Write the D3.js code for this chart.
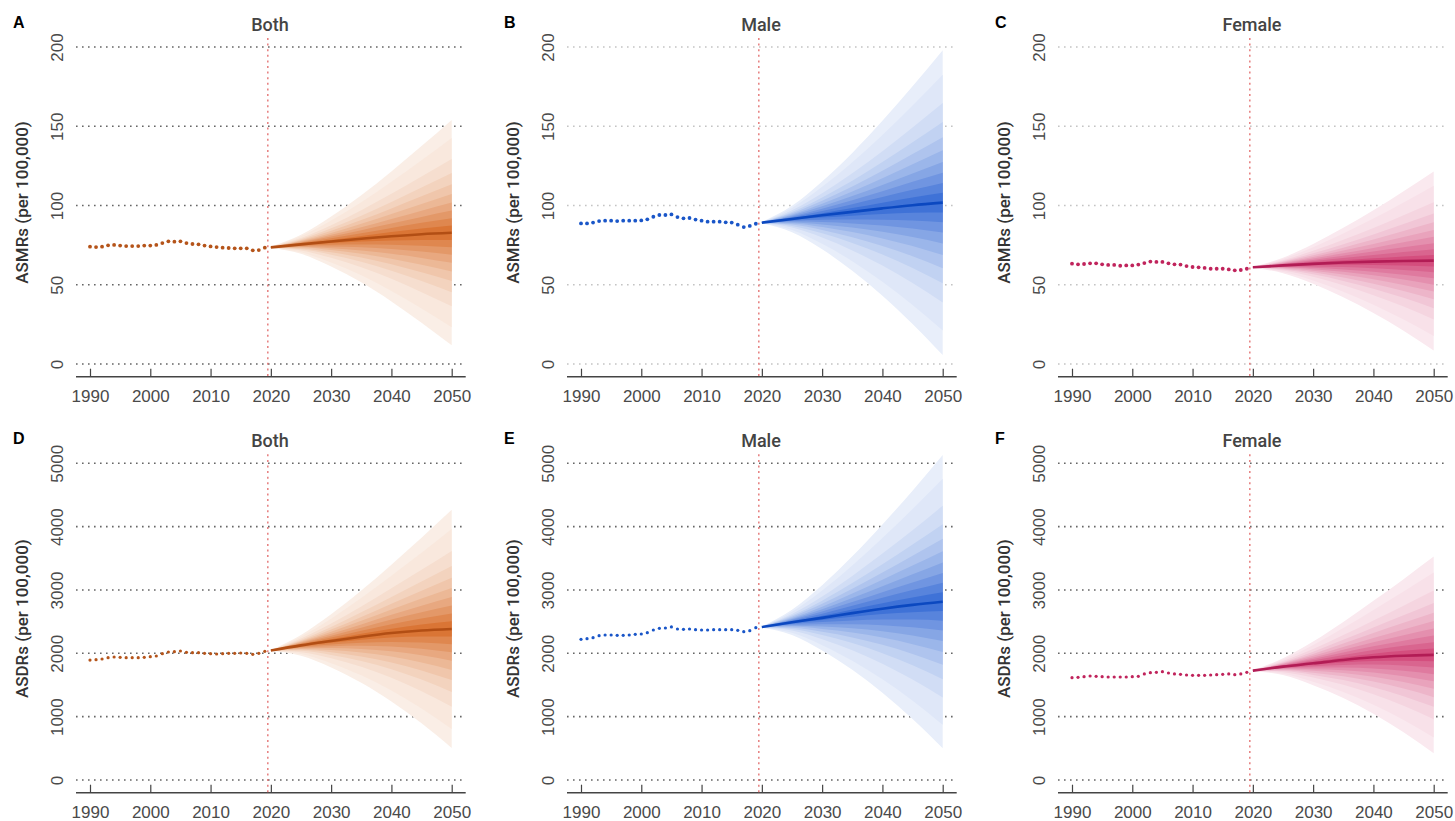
<!DOCTYPE html>
<html>
<head>
<meta charset="utf-8">
<script src="https://cdn.jsdelivr.net/npm/d3@7"></script>
<style>
  body { margin: 0; background: #fff; }
  svg { font-family: Roboto, "Noto Sans", sans-serif; }
</style>
</head>
<body>
<div id="chart"></div>
<script>
// Observed years and forecast years
const OBS_YEARS = [1990, 1991, 1992, 1993, 1994, 1995, 1996, 1997, 1998, 1999,
  2000, 2001, 2002, 2003, 2004, 2005, 2006, 2007, 2008, 2009,
  2010, 2011, 2012, 2013, 2014, 2015, 2016, 2017, 2018, 2019];
const FORECAST_YEARS = [2020, 2025, 2030, 2035, 2040, 2045, 2050];
const CUTOFF_YEAR = 2019.5;

const X_TICKS = [1990, 2000, 2010, 2020, 2030, 2040, 2050];
const ASMR_TICKS = [0, 50, 100, 150, 200];
const ASDR_TICKS = [0, 1000, 2000, 3000, 4000, 5000];

// prediction interval levels (outer -> inner) and their z scores
const BAND_LEVELS = [95, 90, 80, 70, 60, 50, 40, 30, 20, 10];
const BAND_Z = [1.960, 1.645, 1.282, 1.036, 0.842, 0.674, 0.524, 0.385, 0.253, 0.126];

// ASMR
const BOTH_ASMR_OBS = [74.0, 73.8, 74.0, 74.9, 75.1, 74.7, 74.4, 74.4, 74.4, 74.7, 74.7, 75.1, 76.3, 77.4, 77.2,
  77.4, 76.3, 75.7, 75.5, 74.7, 74.2, 73.8, 73.4, 73.2, 73.0, 73.0, 73.0, 71.7, 71.9, 73.4];
const BOTH_ASMR_MEDIAN = [73.6, 75.5, 77.3, 79.0, 80.6, 81.9, 82.8];
const BOTH_ASMR_UPPER = [74.0, 81.5, 93.0, 106.5, 121.5, 137.5, 154.0];
const BOTH_ASMR_LOWER = [73.2, 69.5, 61.5, 51.5, 39.5, 26.0, 11.8];

const MALE_ASMR_OBS = [88.7, 88.7, 89.2, 90.2, 90.4, 90.4, 90.2, 90.4, 90.4, 90.4, 90.6, 91.3, 92.9, 94.0, 94.0,
  94.4, 92.7, 91.9, 92.1, 91.1, 90.4, 89.8, 89.8, 89.8, 89.4, 89.2, 87.9, 86.4, 87.1, 88.5];
const MALE_ASMR_MEDIAN = [89.2, 91.5, 93.8, 96.0, 98.2, 100.2, 101.8];
const MALE_ASMR_UPPER = [89.6, 99.8, 115.2, 133.2, 153.4, 175.2, 198.0];
const MALE_ASMR_LOWER = [88.8, 83.2, 72.4, 58.8, 43.0, 25.2, 5.6];

const FEMALE_ASMR_OBS = [63.3, 62.9, 63.1, 63.5, 63.5, 62.9, 62.5, 62.5, 62.0, 62.2, 62.2, 62.7, 63.7, 64.6, 64.4,
  64.4, 63.5, 62.9, 62.7, 61.8, 61.2, 61.0, 60.6, 60.1, 60.1, 60.1, 59.7, 59.1, 59.3, 60.1];
const FEMALE_ASMR_MEDIAN = [61.0, 62.2, 63.2, 64.0, 64.6, 65.0, 65.2];
const FEMALE_ASMR_UPPER = [61.2, 67.1, 75.7, 85.9, 97.0, 109.0, 121.5];
const FEMALE_ASMR_LOWER = [60.8, 57.3, 50.7, 42.1, 32.2, 21.0, 8.5];

// ASDR
const BOTH_ASDR_OBS = [1894, 1900, 1910, 1931, 1942, 1937, 1931, 1931, 1931, 1937, 1947, 1958, 1994, 2021, 2026,
  2037, 2016, 2010, 2010, 2000, 1994, 1989, 1994, 2000, 2000, 2005, 2000, 1984, 2000, 2031];
const BOTH_ASDR_MEDIAN = [2045, 2125, 2195, 2262, 2320, 2360, 2385];
const BOTH_ASDR_UPPER = [2050, 2290, 2615, 2990, 3400, 3825, 4265];
const BOTH_ASDR_LOWER = [2040, 1962, 1778, 1535, 1240, 895, 505];

const MALE_ASDR_OBS = [2221, 2231, 2247, 2279, 2289, 2289, 2284, 2284, 2289, 2300, 2305, 2326, 2368, 2394, 2400,
  2416, 2384, 2379, 2384, 2374, 2368, 2368, 2374, 2374, 2374, 2374, 2363, 2342, 2358, 2405];
const MALE_ASDR_MEDIAN = [2415, 2490, 2560, 2635, 2705, 2765, 2815];
const MALE_ASDR_UPPER = [2425, 2689, 3074, 3531, 4034, 4568, 5130];
const MALE_ASDR_LOWER = [2405, 2291, 2046, 1739, 1376, 962, 500];

const FEMALE_ASDR_OBS = [1616, 1621, 1632, 1642, 1637, 1632, 1626, 1626, 1626, 1626, 1632, 1637, 1674, 1695, 1700,
  1710, 1689, 1674, 1668, 1658, 1653, 1653, 1653, 1658, 1663, 1668, 1674, 1663, 1674, 1700];
const FEMALE_ASDR_MEDIAN = [1726, 1790, 1842, 1895, 1937, 1962, 1975];
const FEMALE_ASDR_UPPER = [1730, 1923, 2187, 2496, 2828, 3171, 3527];
const FEMALE_ASDR_LOWER = [1722, 1657, 1497, 1294, 1046, 753, 423];

// Colours per sex
const COLOURS = {
  Both:   { fan: '#d6661f', line: '#b24e14', dot: '#b5541a' },
  Male:   { fan: '#2a62d2', line: '#0b48c0', dot: '#1a56c8' },
  Female: { fan: '#cf3a70', line: '#b21c55', dot: '#c0245c' }
};

const W = 1455, H = 821;
const COL_X0 = [90, 581, 1072];
const PLOT_W = 361.7;
const ROWS = [
  { top: 47, bottom: 364, axis: 376.7, label: 'ASMRs (per 100,000)', max: 200, ticks: ASMR_TICKS, r: 1.9 },
  { top: 463.3, bottom: 780, axis: 792.7, label: 'ASDRs (per 100,000)', max: 5000, ticks: ASDR_TICKS, r: 1.6 }
];

const PANELS = [
  { letter: 'A', title: 'Both',   row: 0, col: 0, grid: '#666', obs: BOTH_ASMR_OBS, med: BOTH_ASMR_MEDIAN, up: BOTH_ASMR_UPPER, lo: BOTH_ASMR_LOWER },
  { letter: 'B', title: 'Male',   row: 0, col: 1, grid: '#c4c4c4', obs: MALE_ASMR_OBS, med: MALE_ASMR_MEDIAN, up: MALE_ASMR_UPPER, lo: MALE_ASMR_LOWER },
  { letter: 'C', title: 'Female', row: 0, col: 2, grid: '#c4c4c4', obs: FEMALE_ASMR_OBS, med: FEMALE_ASMR_MEDIAN, up: FEMALE_ASMR_UPPER, lo: FEMALE_ASMR_LOWER },
  { letter: 'D', title: 'Both',   row: 1, col: 0, grid: '#666', obs: BOTH_ASDR_OBS, med: BOTH_ASDR_MEDIAN, up: BOTH_ASDR_UPPER, lo: BOTH_ASDR_LOWER },
  { letter: 'E', title: 'Male',   row: 1, col: 1, grid: '#666', obs: MALE_ASDR_OBS, med: MALE_ASDR_MEDIAN, up: MALE_ASDR_UPPER, lo: MALE_ASDR_LOWER },
  { letter: 'F', title: 'Female', row: 1, col: 2, grid: '#666', obs: FEMALE_ASDR_OBS, med: FEMALE_ASDR_MEDIAN, up: FEMALE_ASDR_UPPER, lo: FEMALE_ASDR_LOWER }
];

const svg = d3.select('#chart').append('svg')
  .attr('width', W)
  .attr('height', H);

function drawPanel(p) {
  const row = ROWS[p.row];
  const x0 = COL_X0[p.col];
  const col = COLOURS[p.title];
  const g = svg.append('g');

  const x = d3.scaleLinear().domain([1990, 2050]).range([x0, x0 + PLOT_W]);
  const y = d3.scaleLinear().domain([0, row.max]).range([row.bottom, row.top]);
  const xl = x0 - 14, xr = x0 + PLOT_W + 14;

  // dotted gridlines
  g.selectAll('line.grid')
    .data(row.ticks)
    .join('line')
    .attr('class', 'grid')
    .attr('x1', xl).attr('x2', xr)
    .attr('y1', d => y(d)).attr('y2', d => y(d))
    .attr('stroke', p.grid)
    .attr('stroke-width', 1.6)
    .attr('stroke-dasharray', '1.6,4.4');

  // y axis (rotated labels)
  const yAxis = g.append('g')
    .attr('transform', `translate(${x0},0)`)
    .call(d3.axisLeft(y).tickValues(row.ticks).tickSize(0).tickFormat(d3.format('d')));
  yAxis.select('.domain').remove();
  yAxis.selectAll('text')
    .attr('x', 0).attr('dy', 0)
    .attr('text-anchor', 'middle')
    .attr('transform', 'translate(-27,0) rotate(-90)')
    .style('font-size', '17px')
    .style('fill', '#4a4a4a');

  // y label
  g.append('text')
    .attr('transform', `translate(${x0 - 62},${(row.top + row.bottom) / 2 - 3}) rotate(-90)`)
    .attr('text-anchor', 'middle')
    .style('font-size', '17px')
    .style('font-weight', '500')
    .style('fill', '#333')
    .text(row.label);

  // x axis
  const xAxis = g.append('g')
    .attr('transform', `translate(0,${row.axis})`)
    .call(d3.axisBottom(x).tickValues(X_TICKS).tickSize(-8).tickSizeOuter(0).tickPadding(13).tickFormat(d3.format('d')));
  xAxis.select('.domain').remove();
  xAxis.selectAll('.tick line').attr('stroke', '#444').attr('stroke-width', 1.2);
  xAxis.selectAll('text').style('font-size', '17px').style('fill', '#4a4a4a');
  g.append('line')
    .attr('x1', xl).attr('x2', xr)
    .attr('y1', row.axis).attr('y2', row.axis)
    .attr('stroke', '#444')
    .attr('stroke-width', 1.4);

  // forecast fan: nested prediction intervals, paler outwards
  const fc = FORECAST_YEARS.map((yr, i) => ({ year: yr, med: p.med[i], up: p.up[i], lo: p.lo[i] }));
  const bandArea = z => d3.area()
    .x(d => x(d.year))
    .y0(d => y(d.med - (z / 1.96) * (d.med - d.lo)))
    .y1(d => y(d.med + (z / 1.96) * (d.up - d.med)))
    .curve(d3.curveMonotoneX);
  const shade = d3.interpolateRgb('#ffffff', col.fan);

  BAND_Z.forEach((z, i) => {
    const t = 0.11 + 0.79 * Math.pow(i / (BAND_Z.length - 1), 1.35);
    g.append('path')
      .datum(fc)
      .attr('d', bandArea(z))
      .attr('fill', shade(t));
  });

  g.append('path')
    .datum(fc)
    .attr('d', d3.line().x(d => x(d.year)).y(d => y(d.med)).curve(d3.curveMonotoneX))
    .attr('fill', 'none')
    .attr('stroke', col.line)
    .attr('stroke-width', 2.6);

  // cut-off line
  g.append('line')
    .attr('x1', x(CUTOFF_YEAR)).attr('x2', x(CUTOFF_YEAR))
    .attr('y1', row.top - 9).attr('y2', row.axis)
    .attr('stroke', '#e26a6a')
    .attr('stroke-width', 1.3)
    .attr('stroke-dasharray', '2,3.6');

  // observed points
  g.selectAll('circle.obs')
    .data(OBS_YEARS.map((yr, i) => ({ year: yr, value: p.obs[i] })))
    .join('circle')
    .attr('class', 'obs')
    .attr('cx', d => x(d.year))
    .attr('cy', d => y(d.value))
    .attr('r', row.r)
    .attr('fill', col.dot);

  // title and panel letter
  g.append('text')
    .attr('x', x0 + 180)
    .attr('y', row.top - 16.5)
    .attr('text-anchor', 'middle')
    .style('font-size', '18px')
    .style('font-weight', '500')
    .style('fill', '#444')
    .text(p.title);

  g.append('text')
    .attr('x', x0 - 77)
    .attr('y', row.top - 19)
    .style('font-family', '"Liberation Sans", Arial, sans-serif')
    .style('font-size', '16px')
    .style('font-weight', '700')
    .style('fill', '#000')
    .text(p.letter);
}

PANELS.forEach(drawPanel);
</script>
</body>
</html>
